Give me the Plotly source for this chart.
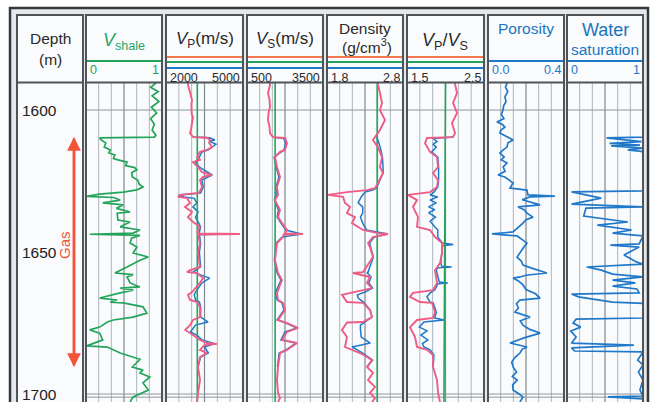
import plotly.graph_objects as go

# ---------------- data (depth in m, values in track units) ----------------
vsh_log = [(1590.5,0.92),(1592,0.85),(1593.5,0.95),(1595,0.87),(1597,0.96),(1599,0.86),(1601,0.93),(1603,0.85),
           (1605,0.9),(1607,0.87),(1608.8,0.92),(1609.5,0.9),(1609.8,0.18),(1610.5,0.2),(1611.6,0.26),(1613,0.24),
           (1614,0.32),(1615,0.3),(1615.8,0.38),(1617,0.36),(1617.5,0.42),(1618.3,0.54),(1619.5,0.52),(1620.2,0.64),
           (1621,0.67),(1622,0.6),(1623.5,0.61),(1624.6,0.68),(1626,0.7),(1627,0.75),(1628,0.67),(1628.8,0.49),
           (1629.5,0.18),(1630.3,0.01),(1630.7,0.36),(1631.6,0.45),(1632.6,0.22),(1633.3,0.49),(1634.5,0.4),
           (1635.8,0.58),(1636.2,0.41),(1638.6,0.42),(1639.3,0.58),(1641,0.45),(1642.1,0.71),(1643.2,0.62),
           (1643.6,0.05),(1644,0.71),(1645,0.6),(1646.7,0.58),(1648.1,0.67),(1650.2,0.62),(1651.6,0.82),
           (1652.7,0.71),(1655.1,0.54),(1657.2,0.38),(1657.8,0.62),(1658.6,0.54),(1660.7,0.58),(1662.1,0.71),
           (1662.5,0.45),(1663.2,0.62),(1664.2,0.45),(1666,0.18),(1666.7,0.41),(1667.4,0.32),(1667.7,0.49),
           (1668.5,0.62),(1669.1,0.75),(1671.3,0.8),(1672.7,0.62),(1673.7,0.36),(1674.4,0.28),(1676.2,0.18),
           (1677.2,0.05),(1678.3,0.18),(1680.7,0.22),(1682.8,0.01),(1683.2,0.28),(1685.3,0.45),(1686.5,0.6),
           (1687.5,0.71),(1690.2,0.61),(1691.3,0.75),(1692.3,0.71),(1693.7,0.84),(1695.8,0.75),(1698.3,0.82),
           (1700.7,0.62),(1702.5,0.58)]

vp_log = [(1590.5,2850),(1591.2,2857),(1592.5,2900),(1594,2935),(1595.2,2960),(1596.5,3013),(1598,2990),(1600,3013),
          (1601.3,3000),(1602.5,3052),(1604,3030),(1606,3013),(1607,2970),(1608.1,2935),(1609.5,3052),(1609.7,3597),
          (1610.5,3714),(1611.5,3680),(1613,3792),(1614,3597),(1614.7,3325),(1616.5,3208),(1617.5,3325),
          (1618.3,3052),(1620,3247),(1621.8,3403),(1622.8,3792),(1623.5,3442),(1624.6,3325),(1627,3403),(1629.1,3286),
          (1629.8,2545),(1630.5,2467),(1630.9,2818),(1632.6,2935),(1634,2740),(1635.8,3013),(1637.6,2857),
          (1639.3,3052),(1641,3325),(1642.8,3208),(1643.3,3240),(1643.5,4883),(1643.7,3247),(1646.7,3325),
          (1650.2,3247),(1655.1,3325),(1656.2,2935),(1656.9,2818),(1657.2,3208),(1659,3442),(1660.7,3325),
          (1663.9,3013),(1664.9,2857),(1666.7,2935),(1667.4,3208),(1669.1,3325),(1672.7,3325),(1673.7,3052),
          (1675.5,2935),(1677.2,2750),(1679,3050),(1680.7,3325),(1681.8,3597),(1682.1,3985),(1682.5,3500),
          (1683.2,3442),(1684.2,3325),(1685.3,3597),(1686.7,3325),(1690.2,3247),(1694.8,3325),(1699.3,3247),
          (1702.5,3208)]
vp_brine_log = [(1609.5,3052),(1609.7,3700),(1610.5,3900),(1611,3700),(1612,3950),(1613,3800),(1614,3650),
                (1614.7,3400),(1616.5,3300),(1618.3,3150),(1620,3300),(1622.8,3800),(1624.6,3400),(1627,3450),
                (1629.1,3350),(1629.8,2500),(1630.5,2700),(1631,3100),(1632.6,3200),(1634,3050),(1635.8,3250),
                (1637.6,3150),(1639.3,3250),(1641,3350),(1642.8,3300),(1643.3,3300),(1643.5,4800),(1643.7,3300),
                (1646.7,3350),(1650,3300),(1655,3350),(1656.9,3050),(1659,3700),(1660.7,3400),(1663.9,3150),
                (1664.9,3100),(1666.7,3150),(1667.4,3300),(1669,3350),(1672.7,3350),(1674.4,3636),(1675.5,3150),
                (1677.9,2950),(1679,3200),(1680.7,3400),(1682,3900),(1683.2,3500),(1685.3,3650),(1686.7,3350),
                (1690,3250)]

vs_log = [(1590.5,1400),(1591.2,1408),(1594,1329),(1596.5,1390),(1598.9,1408),(1601,1350),(1603.5,1329),
          (1606,1390),(1608.1,1408),(1609.5,1526),(1609.8,2000),(1611.6,2079),(1614,2000),(1614.7,1803),
          (1616.5,1605),(1620,1684),(1623.5,1803),(1627,1684),(1629.8,1724),(1631.6,1605),(1635.1,1803),
          (1637.6,1724),(1639.7,1881),(1642.1,2079),(1643.3,2000),(1643.5,2710),(1643.7,1950),(1644.6,1921),
          (1646.7,1684),(1652.7,1605),(1657.2,1724),(1659.7,1881),(1664.2,1684),(1666.7,1724),(1667.7,1921),
          (1670.2,2000),(1673.7,1724),(1674.8,2079),(1676.5,2513),(1677.9,2079),(1680.7,1881),(1681.8,2474),
          (1684.2,2079),(1685.3,1803),(1690.2,1724),(1694.8,1684),(1699.3,1724),(1701.1,1803),(1702.5,1724)]
vs_brine_log = [(1609.5,1500),(1610,1950),(1611.6,2030),(1614,1960),(1616.5,1570),(1620,1650),(1623.5,1760),
                (1627,1650),(1629.8,1650),(1631.6,1580),(1635.1,1740),(1637.6,1690),(1639.7,1840),(1642.1,2030),
                (1643.5,2650),(1644.6,1880),(1646.7,1650),(1652.7,1580),(1657.2,1690),(1659.7,1840),(1664.2,1620),
                (1666.7,1690),(1667.7,1880),(1670.2,1960),(1673.7,1690),(1674.8,2040),(1676.5,2470),(1677.9,2000),
                (1680.7,1840),(1681.8,2430),(1684.2,2040),(1685.3,1770),(1690.2,1700)]

rho_log = [(1590.5,2.47),(1591.2,2.471),(1594,2.497),(1597.5,2.524),(1600,2.497),(1603.5,2.563),(1607,2.497),
           (1610.5,2.405),(1613,2.471),(1616.5,2.524),(1620,2.497),(1622.1,2.537),(1625.6,2.471),(1627.4,2.432),
           (1628.1,2.326),(1628.8,2.063),(1629.8,1.813),(1630.5,2.011),(1632.6,2.037),(1634,2.103),(1636.2,2.063),
           (1637.6,2.168),(1639.7,2.129),(1642.1,2.274),(1643.2,2.471),(1643.5,2.603),(1644.6,2.405),(1646.7,2.34),
           (1648.1,2.366),(1651.6,2.405),(1656.9,2.274),(1657.2,2.142),(1658.6,2.366),(1660.7,2.326),(1662.5,2.392),
           (1663.9,2.142),(1664.9,1.997),(1667.4,2.063),(1667.7,2.274),(1670.2,2.366),(1672.7,2.392),(1674.4,2.274),
           (1674.6,2.063),(1677.2,1.997),(1679.7,2.063),(1683.2,2.037),(1684.2,2.142),(1685.3,2.234),(1686.7,2.326),
           (1687.8,2.392),(1690.2,2.326),(1692.3,2.405),(1694.8,2.34),(1697.2,2.432),(1699.3,2.366),(1701.1,2.432),
           (1702.5,2.392)]
rho_brine_log = [(1609.5,2.45),(1610.5,2.47),(1613,2.5),(1616.5,2.53),(1622,2.54),(1627.4,2.45),(1628.1,2.4),
                 (1628.8,2.3),(1629.8,2.27),(1630.5,2.25),(1632.6,2.21),(1634,2.27),(1636.2,2.27),(1637.6,2.24),
                 (1639.7,2.27),(1642.1,2.32),(1643.5,2.6),(1644.6,2.42),(1646.7,2.36),(1651.6,2.41),(1656.9,2.34),
                 (1657.2,2.33),(1658.6,2.38),(1660.7,2.35),(1662.5,2.4),(1663.9,2.3),(1664.9,2.2),(1666,2.21),
                 (1667.4,2.28),(1670.2,2.37),(1672.7,2.39),(1674.4,2.3),(1675.5,2.24),(1677,2.24),(1679.7,2.25),
                 (1681.8,2.37),(1683.2,2.13),(1684.2,2.2),(1685.3,2.27),(1687.8,2.4),(1690.2,2.33)]

vpvs_log = [(1590.5,2.12),(1591.2,2.124),(1594,2.15),(1597.5,2.098),(1601,2.15),(1604.6,2.085),(1608.1,2.124),
            (1609.5,2.098),(1609.8,1.76),(1611.6,1.734),(1614.7,1.799),(1616.5,1.89),(1620,1.903),(1622.1,1.838),
            (1624.6,1.903),(1627,1.89),(1628.8,1.799),(1629.8,1.513),(1631.6,1.63),(1634,1.578),(1637.6,1.643),
            (1641,1.63),(1642.1,1.799),(1644.6,1.864),(1646.7,1.955),(1650.2,1.955),(1653.7,1.929),(1656.2,1.864),
            (1660.7,1.89),(1663.2,1.838),(1664.2,1.578),(1665.6,1.539),(1667.4,1.669),(1667.7,1.825),(1670.9,1.864),
            (1673,1.838),(1673.7,1.63),(1676.2,1.539),(1679.7,1.604),(1683.2,1.63),(1684.2,1.76),(1686,1.838),
            (1690.2,1.838),(1694.8,1.89),(1699.3,1.903),(1702.5,1.929)]
vpvs_brine_log = [(1609.5,2.1),(1610,1.84),(1611,1.89),(1612,1.84),(1613,1.88),(1614.7,1.82),(1616.5,1.9),
                  (1620,1.91),(1624.6,1.91),(1627,1.9),(1628.8,1.85),(1629.8,1.8),(1630.5,1.9),(1631.6,1.8),
                  (1632.6,1.88),(1634,1.78),(1635,1.86),(1636,1.78),(1637.6,1.87),(1639,1.8),(1641,1.86),
                  (1642.1,1.9),(1644.6,1.9),(1646.7,1.96),(1647.2,2.1),(1647.6,1.96),(1653.7,1.94),(1654.8,1.95),
                  (1655.1,2.08),(1655.4,1.9),(1656.2,1.88),(1660.4,1.92),(1660.7,2.03),(1661,1.9),(1663.2,1.86),
                  (1664.2,1.8),(1665.6,1.76),(1666.7,1.78),(1667.4,1.8),(1667.7,1.84),(1670.9,1.88),(1673,1.86),
                  (1673.7,1.98),(1674.4,1.72),(1676.2,1.66),(1677.5,1.76),(1679,1.68),(1680.7,1.77),(1682,1.7),
                  (1683.2,1.72),(1684.2,1.8),(1686,1.85),(1690.2,1.84)]

por_log = [(1590.5,0.100),(1592,0.092),(1593.5,0.104),(1595.4,0.089),(1597,0.095),(1598.5,0.082),(1600,0.079),
           (1601.5,0.070),(1603,0.084),(1604.2,0.047),(1605,0.075),(1606,0.089),(1607,0.068),(1608.1,0.063),
           (1609,0.090),(1610.5,0.132),(1611.5,0.105),(1613,0.100),(1614,0.080),(1615.1,0.063),(1616.5,0.085),
           (1617.5,0.070),(1618.6,0.100),(1620,0.080),(1621.5,0.090),(1622.8,0.053),(1623.5,0.089),(1625.6,0.132),
           (1627.4,0.116),(1628.1,0.205),(1629.8,0.210),(1630.2,0.352),(1630.5,0.221),(1631.5,0.180),(1633.3,0.274),
           (1634,0.158),(1635,0.190),(1636.2,0.205),(1637.6,0.237),(1638.5,0.200),(1639.7,0.184),(1641,0.160),
           (1642.8,0.132),(1643.5,0.021),(1644.2,0.153),(1645.5,0.180),(1646.7,0.205),(1648,0.190),(1650,0.170),
           (1651.6,0.153),(1653,0.175),(1654.4,0.184),(1655.5,0.230),(1657.2,0.310),(1658,0.200),(1658.6,0.168),
           (1659,0.132),(1660,0.160),(1661.4,0.184),(1663,0.200),(1664.5,0.250),(1666,0.274),(1666.7,0.168),
           (1668,0.150),(1669.5,0.160),(1670.9,0.142),(1672.7,0.221),(1674,0.170),(1675.5,0.184),(1677,0.220),
           (1678.3,0.274),(1680,0.190),(1681.8,0.116),(1683.2,0.205),(1684,0.180),(1685.3,0.168),(1687,0.140),
           (1688.5,0.125),(1690.2,0.132),(1692,0.150),(1693.5,0.128),(1694.8,0.153),(1696.5,0.130),(1698.3,0.132),
           (1699.5,0.160),(1700.7,0.184),(1702.5,0.168)]

sw_log = [(1590.5,1.0),(1609.5,1.0),(1609.8,0.52),(1611.1,0.98),(1611.7,0.56),(1612.3,0.96),(1612.6,0.58),
          (1613.4,1.0),(1614,0.8),(1614.6,1.0),(1628.4,1.0),(1628.7,0.06),(1630.9,0.45),(1633,0.06),(1634,1.0),
          (1634.4,0.25),(1637.2,0.22),(1638.3,0.54),(1639.3,0.8),(1640.4,0.4),(1642.1,0.85),(1643.2,0.6),
          (1644.2,1.0),(1647,0.95),(1647.4,0.57),(1648.1,0.95),(1650.9,0.75),(1653.4,0.92),(1654.1,1.0),
          (1655.1,0.26),(1656.2,0.45),(1657.6,0.6),(1658.6,1.0),(1659.7,0.6),(1660.7,0.9),(1661.8,0.6),
          (1662.8,0.92),(1664.2,0.95),(1664.6,0.06),(1665.6,0.15),(1667.4,0.6),(1667.9,1.0),(1673,1.0),
          (1673.4,0.12),(1674.8,0.08),(1676.2,0.18),(1677.6,0.05),(1679.7,0.12),(1681.8,0.06),(1682.5,0.88),
          (1683.5,0.06),(1684.6,0.1),(1684.9,1.0),(1687.8,0.93),(1689.5,1.0),(1692,0.94),(1694.8,1.0),
          (1698.3,0.96),(1700.4,1.0),(1700.7,0.54),(1701.4,1.0),(1702.5,1.0)]

# constant reference (green) lines
ref_depth = [1590.5, 1702.5]
vp_ref = [3220, 3220]
vs_ref = [1610, 1610]
rho_ref = [2.46, 2.46]
vpvs_ref = [2.0, 1.98]

depth_ticks = [1600, 1650, 1700]
grid_depths = [1600, 1699.7, 1700.8]
gas_top, gas_base = 1609.5, 1690.2

# ---------------- layout helpers ----------------
W, H = 650, 402
def px(x): return x / W
def py(y): return 1 - y / H

GREEN = '#22a55a'
PINK = '#ef5c85'
BLUE = '#1f78c9'
ORANGE = '#f27a4c'
TXT = '#2a2a2a'
FONT = 'Liberation Sans, Arial, sans-serif'
BORDER = '#4f5459'

tracks = [
    dict(ax='x',  L=86,  R=162, rng=[0, 1],       lo='0',    hi='1',    lc=GREEN, lines=[GREEN]),
    dict(ax='x2', L=166, R=243, rng=[2000, 5000], lo='2000', hi='5000', lc=TXT,   lines=[ORANGE, GREEN, BLUE]),
    dict(ax='x3', L=247, R=323, rng=[500, 3500],  lo='500',  hi='3500', lc=TXT,   lines=[ORANGE, GREEN, BLUE]),
    dict(ax='x4', L=327, R=403, rng=[1.8, 2.8],   lo='1.8',  hi='2.8',  lc=TXT,   lines=[ORANGE, GREEN, BLUE]),
    dict(ax='x5', L=407, R=484, rng=[1.5, 2.5],   lo='1.5',  hi='2.5',  lc=TXT,   lines=[ORANGE, GREEN, BLUE]),
    dict(ax='x6', L=488, R=564, rng=[0, 0.4],     lo='0.0',  hi='0.4',  lc=BLUE,  lines=[BLUE]),
    dict(ax='x7', L=567, R=643, rng=[0, 1],       lo='0',    hi='1',    lc=BLUE,  lines=[BLUE]),
]
DEPTH_BOX = (17, 83)
HDR_TOP, HDR_BOT = 15, 82.5

def unzip(log):
    return [p[1] for p in log], [p[0] for p in log]

fig = go.Figure()

def add(log, ax, color, width=1.5):
    x, y = unzip(log)
    fig.add_trace(go.Scatter(x=x, y=y, xaxis=ax, yaxis='y', mode='lines',
                             line=dict(color=color, width=width), hoverinfo='skip', showlegend=False))

def add_ref(vals, ax):
    fig.add_trace(go.Scatter(x=vals, y=ref_depth, xaxis=ax, yaxis='y', mode='lines',
                             line=dict(color=GREEN, width=1.6), hoverinfo='skip', showlegend=False))

add(vsh_log, 'x', GREEN, 1.7)
add(vp_brine_log, 'x2', BLUE); add_ref(vp_ref, 'x2'); add(vp_log, 'x2', PINK, 1.9)
add(vs_brine_log, 'x3', BLUE); add_ref(vs_ref, 'x3'); add(vs_log, 'x3', PINK, 1.9)
add(rho_brine_log, 'x4', BLUE); add_ref(rho_ref, 'x4'); add(rho_log, 'x4', PINK, 1.9)
add(vpvs_brine_log, 'x5', BLUE); add_ref(vpvs_ref, 'x5'); add(vpvs_log, 'x5', PINK, 1.9)
add(por_log, 'x6', BLUE, 1.7)
add(sw_log, 'x7', BLUE, 1.7)

shapes = []
ann = []
# outer frame + background
shapes.append(dict(type='rect', xref='paper', yref='paper', x0=px(10), x1=px(648), y0=py(8), y1=py(420),
                   fillcolor='#e6e9ec', line=dict(color='#35393d', width=2.5), layer='below'))
boxes = [DEPTH_BOX] + [(t['L'], t['R']) for t in tracks]
for (L, R) in boxes:
    shapes.append(dict(type='rect', xref='paper', yref='paper', x0=px(L), x1=px(R), y0=py(HDR_TOP), y1=py(420),
                       fillcolor='#fafbfd', line=dict(width=0), layer='below'))

layout_axes = {}
for t in tracks:
    name = 'xaxis' if t['ax'] == 'x' else 'xaxis' + t['ax'][1:]
    layout_axes[name] = dict(domain=[px(t['L']), px(t['R'])], range=t['rng'], visible=False,
                             anchor='y', fixedrange=True)
    dref = t['ax'] + ' domain'
    # vertical grid lines
    for k in range(1, 6):
        shapes.append(dict(type='line', xref=dref, yref='y domain', x0=k/6, x1=k/6, y0=0, y1=1,
                           line=dict(color='#7f878e' if k == 3 else '#adb6be', width=1.2 if k == 3 else 1),
                           layer='below'))
    for d in grid_depths:
        shapes.append(dict(type='line', xref=dref, yref='y', x0=0, x1=1, y0=d, y1=d,
                           line=dict(color='#8d959c', width=1), layer='below'))
    # header colour bars
    if len(t['lines']) == 3:
        for c, yy in zip(t['lines'], [57, 62, 68]):
            shapes.append(dict(type='line', xref='paper', yref='paper', x0=px(t['L']), x1=px(t['R']),
                               y0=py(yy), y1=py(yy), line=dict(color=c, width=2), layer='above'))
        ly = 78
    else:
        shapes.append(dict(type='line', xref='paper', yref='paper', x0=px(t['L']), x1=px(t['R']),
                           y0=py(61), y1=py(61), line=dict(color=t['lines'][0], width=2), layer='above'))
        ly = 70
    ann.append(dict(x=t['rng'][0], xref=t['ax'], y=py(ly), yref='paper', text=t['lo'], showarrow=False,
                    xanchor='left', yanchor='middle', xshift=2, font=dict(size=12.5, color=t['lc'], family=FONT)))
    ann.append(dict(x=t['rng'][1], xref=t['ax'], y=py(ly), yref='paper', text=t['hi'], showarrow=False,
                    xanchor='right', yanchor='middle', xshift=-1, font=dict(size=12.5, color=t['lc'], family=FONT)))

# box borders and header separators
for (L, R) in boxes:
    shapes.append(dict(type='rect', xref='paper', yref='paper', x0=px(L), x1=px(R), y0=py(HDR_TOP), y1=py(420),
                       line=dict(color=BORDER, width=2), layer='above'))
    shapes.append(dict(type='line', xref='paper', yref='paper', x0=px(L), x1=px(R), y0=py(HDR_BOT), y1=py(HDR_BOT),
                       line=dict(color=BORDER, width=2), layer='above'))

# header titles
def title(x, y, text, size, color=TXT):
    ann.append(dict(x=px(x), y=py(y), xref='paper', yref='paper', text=text, showarrow=False,
                    xanchor='center', yanchor='middle', font=dict(size=size, color=color, family=FONT)))

title(50, 38, 'Depth', 15.5)
title(50, 60, '(m)', 15.5)
title(124, 41, '<i>V</i><sub>shale</sub>', 18, '#1fa463')
title(205, 40, '<i>V</i><sub>P</sub>(m/s)', 17)
title(285, 40, '<i>V</i><sub>S</sub>(m/s)', 17)
title(365, 28, 'Density', 15.5)
title(367, 46, '(g/cm<sup>3</sup>)', 15.5)
title(445, 42, '<i>V</i><sub>P</sub>/<i>V</i><sub>S</sub>', 18)
title(526, 28, 'Porosity', 15.5, '#1b75bc')
title(605, 30, 'Water', 18, '#1b75bc')
title(605, 50, 'saturation', 15.5, '#1b75bc')

# depth labels
for d in depth_ticks:
    ann.append(dict(x=px(20), y=d, xref='paper', yref='y', text=str(d), showarrow=False,
                    xanchor='left', yanchor='middle', font=dict(size=15.5, color='#222', family=FONT)))

# gas arrow (double headed)
ARROW = '#f2553a'
top_px = 137
bot_px = 367
ann.append(dict(x=px(74), y=gas_top, xref='paper', yref='y', ax=0, ay=bot_px - top_px, axref='pixel', ayref='pixel',
                text='', showarrow=True, arrowhead=2, arrowsize=1.1, arrowwidth=2.5, arrowcolor=ARROW, standoff=0))
ann.append(dict(x=px(74), y=gas_base, xref='paper', yref='y', ax=0, ay=-(bot_px - top_px), axref='pixel', ayref='pixel',
                text='', showarrow=True, arrowhead=2, arrowsize=1.1, arrowwidth=2.5, arrowcolor=ARROW, standoff=0))
ann.append(dict(x=px(65), y=py(245), xref='paper', yref='paper', text='Gas', textangle=-90, showarrow=False,
                xanchor='center', yanchor='middle', font=dict(size=15, color=ARROW, family=FONT)))

fig.update_layout(
    width=W, height=H, autosize=False,
    margin=dict(l=0, r=0, t=0, b=0),
    paper_bgcolor='white', plot_bgcolor='rgba(0,0,0,0)',
    showlegend=False,
    yaxis=dict(domain=[0, py(HDR_BOT + 0.5)], range=[1702.5, 1590.5], visible=False, anchor='x', fixedrange=True),
    shapes=shapes, annotations=ann,
    **layout_axes,
)

fig.write_html('out.html')
